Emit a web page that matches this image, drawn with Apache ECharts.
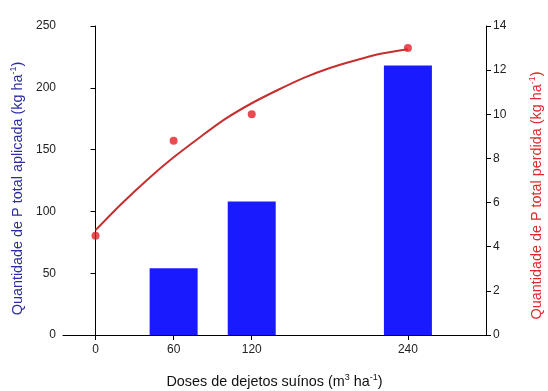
<!DOCTYPE html>
<html>
<head>
<meta charset="utf-8">
<script src="https://cdn.jsdelivr.net/npm/echarts@6/dist/echarts.min.js"></script>
<style>html,body{margin:0;padding:0;background:#fff}#c{width:548px;height:391px}</style>
</head>
<body>
<div id="c"></div>
<script>
// Data
const doses = [0, 60, 120, 240];
const xTicks = [0, 60, 120, 240];
const barDoses = [60, 120, 240];
const pApplied = [54, 108, 218];            // kg/ha, left axis
const pLost = [4.5, 8.8, 10.0, 13.0];       // kg/ha, right axis (points)
const curveDoses = [0, 20, 40, 60, 80, 100, 120, 140, 160, 180, 200, 220, 240];
const curveLost = [4.75, 5.95, 7.05, 8.05, 8.95, 9.8, 10.5, 11.1, 11.65, 12.1, 12.45, 12.75, 12.95];

const chart = echarts.init(document.getElementById('c'), null, {renderer: 'canvas'});
const FONT = 'Liberation Sans, Arial, sans-serif';
const supRich = (color) => ({
  t: {fontSize: 14.4, color: color, fontFamily: FONT, lineHeight: 18},
  s: {fontSize: 9, color: color, fontFamily: FONT, lineHeight: 18, verticalAlign: 'top', padding: [0, 0, 6, 0]}
});
chart.setOption({
  animation: false,
  grid: {left: 63, right: 62, top: 26, bottom: 56, containLabel: false, outerBoundsMode: 'none'},
  xAxis: {
    type: 'value', min: -25, max: 300,
    splitLine: {show: false},
    axisLine: {show: true, lineStyle: {color: '#000', width: 1}},
    axisTick: {show: true, length: 5, customValues: xTicks, lineStyle: {color: '#000'}},
    axisLabel: {customValues: xTicks, fontSize: 12, color: '#222', fontFamily: FONT, margin: 9},
    name: '{t|Doses de dejetos suínos (m}{s|3}{t| ha}{s|-1}{t|)}',
    nameLocation: 'middle', nameGap: 38,
    nameTextStyle: {rich: supRich('#111')}
  },
  yAxis: [{
    type: 'value', min: 0, max: 250, interval: 50,
    position: 'left',
    splitLine: {show: false},
    axisLine: {show: true, lineStyle: {color: '#000'}},
    axisTick: {show: true, length: 5, lineStyle: {color: '#000'}},
    axisLabel: {fontSize: 12, color: '#222', fontFamily: FONT, margin: 7},
    name: '{t|Quantidade de P total aplicada (kg ha}{s|-1}{t|)}',
    nameLocation: 'middle', nameGap: 35,
    nameTextStyle: {rich: supRich('#2b2ba8'), padding: [0, 16, 0, 0]}
  }, {
    type: 'value', min: 0, max: 14, interval: 2,
    position: 'right',
    splitLine: {show: false},
    axisLine: {show: true, lineStyle: {color: '#000'}},
    axisTick: {show: true, length: 5, lineStyle: {color: '#000'}},
    axisLabel: {fontSize: 12, color: '#222', fontFamily: FONT, margin: 7},
    name: '{t|Quantidade de P total perdida (kg ha}{s|-1}{t|)}',
    nameLocation: 'middle', nameGap: 42, nameRotate: 90,
    nameTextStyle: {rich: supRich('#dd2a2a'), padding: [0, 30, 0, 0]}
  }],
  series: [{
    type: 'bar', yAxisIndex: 0, barWidth: 48,
    data: barDoses.map((d, i) => [d, pApplied[i]]),
    itemStyle: {color: '#1a1aff'}
  }, {
    type: 'line', yAxisIndex: 1, smooth: 0.3, showSymbol: false,
    data: curveDoses.map((d, i) => [d, curveLost[i]]),
    lineStyle: {color: '#c62f2f', width: 2}, z: 3
  }, {
    type: 'scatter', yAxisIndex: 1, symbolSize: 8,
    data: doses.map((d, i) => [d, pLost[i]]),
    itemStyle: {color: '#e41e26'}, z: 4
  }]
});
</script>
</body>
</html>
